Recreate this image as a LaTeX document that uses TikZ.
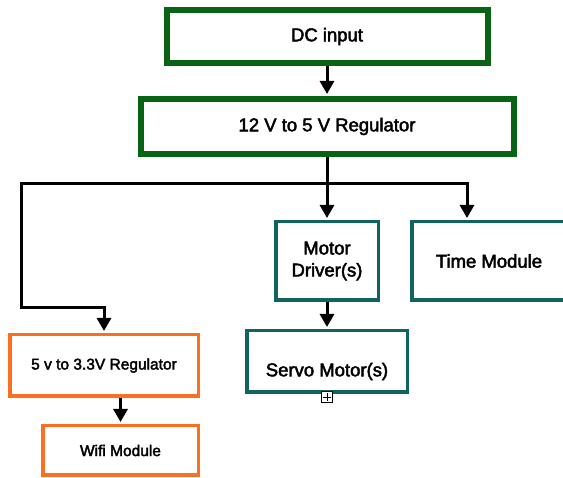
\documentclass[tikz,border=0pt]{standalone}
\usepackage{fontspec}
\setmainfont{Liberation Sans}
\newfontfamily\boxfont{Liberation Sans}[FakeBold=2.5]
\usetikzlibrary{arrows.meta,positioning}

\definecolor{pwrgreen}{RGB}{8,100,18}
\definecolor{modteal}{RGB}{16,100,96}
\definecolor{wifiorange}{RGB}{250,112,32}

\begin{document}
\begin{tikzpicture}[x=1pt, y=-1pt,
  pwr/.style={draw=pwrgreen, line width=6pt, align=center,
    font=\boxfont\fontsize{18.5}{22}\selectfont},
  mod/.style={draw=modteal, line width=3.5pt, align=center,
    font=\boxfont\fontsize{18.5}{22}\selectfont},
  low/.style={draw=wifiorange, line width=3.5pt, align=center,
    font=\boxfont\fontsize{15.5}{18}\selectfont},
  wire/.style={line width=3pt, line join=miter},
  arr/.style={wire, -{Triangle[length=13pt, width=14pt]}, shorten >=2pt}
]
\useasboundingbox (0,0) rectangle (563,478);
\clip (0,0) rectangle (563,478);
\node[pwr, minimum width=321pt, minimum height=53pt] (dc) at (327,36.5) {DC input};
\node[pwr, minimum width=373pt, minimum height=55pt] (reg) at (327,126.5) {12 V to 5 V Regulator};
\node[mod, minimum width=102.5pt, minimum height=78.5pt] (drv) at (327,261) {Motor\\Driver(s)};
\node[mod, minimum width=154pt, minimum height=78.5pt] (time) at (489,261) {Time Module};
\node[mod, minimum width=160.5pt, minimum height=61.5pt,
  label={[font=\boxfont\fontsize{18.5}{22}\selectfont, yshift=-10pt]center:Servo Motor(s)}] (srv) at (327,361.5) {};
\node[low, minimum width=188.5pt, minimum height=61.5pt] (vreg) at (104,365.5) {5 v to 3.3V Regulator};
\node[low, minimum width=155.5pt, minimum height=49.5pt] (wifi) at (120.5,450.5) {Wifi Module};
% small expand marker under the servo box
\node[draw, fill=white, line width=0.9pt, minimum size=11pt, inner sep=0pt] (exp)
  at ([yshift=-3pt]srv.south) {};
\draw[line width=0.9pt] ([yshift=-2pt]exp.north) -- ([yshift=2pt]exp.south)
  ([xshift=2pt]exp.west) -- ([xshift=-2pt]exp.east);

\coordinate (split) at (327,184);
\coordinate (bend) at (21.5,308);
\draw[arr] (dc) -- (reg);
\draw[arr] (reg) -- (drv);
\draw[arr] (split) -| ([xshift=-22pt]time.north);
\draw[arr] (split) -| (bend) -| (vreg.north);
\draw[arr] (drv) -- (srv);
\draw[arr] (vreg.south -| wifi.north) -- (wifi);
\end{tikzpicture}
\end{document}
